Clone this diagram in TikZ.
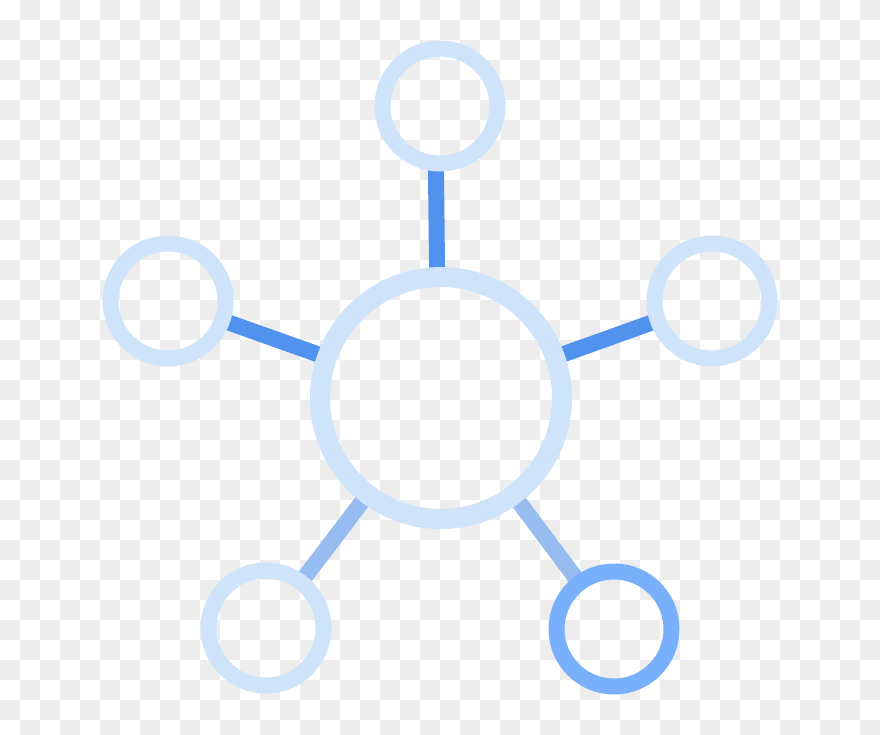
\documentclass[tikz,border=0pt]{standalone}
\usetikzlibrary{backgrounds}
\definecolor{ringlight}{RGB}{207,228,250}
\definecolor{ringdark}{RGB}{120,176,252}
\definecolor{linkdark}{RGB}{82,146,239}
\definecolor{linklight}{RGB}{150,188,240}
\definecolor{checker}{RGB}{237,237,237}
\tikzset{
  ring/.style={circle, draw=ringlight, line width=16pt, inner sep=0pt, minimum size=115pt},
  hubring/.style={circle, draw=ringlight, line width=20pt, inner sep=0pt, minimum size=242pt},
  link/.style={line width=16pt, line cap=butt, shorten <=-8pt, shorten >=-8pt},
}
\begin{document}
\begin{tikzpicture}[x=1pt,y=-1pt]
\useasboundingbox (0,0) rectangle (880,735);
% rings
\node[hubring] (hub) at (441,398) {};
\node[ring] (top) at (440,106) {};
\node[ring] (left) at (168,301) {};
\node[ring] (right) at (712,301) {};
\node[ring] (bl) at (266,628) {};
\node[ring, draw=ringdark] (br) at (614,629) {};
\begin{scope}[on background layer]
  % transparency checkerboard
  \fill[white] (0,0) rectangle (880,735);
  \begin{scope}
    \clip (0,0) rectangle (880,735);
    \foreach \i in {0,...,43}{
      \foreach \j in {0,...,36}{
        \pgfmathtruncatemacro{\parity}{mod(\i+\j,2)}
        \ifnum\parity=1
          \fill[checker] (\i*20,\j*20) rectangle ++(20,20);
        \fi
      }
    }
  \end{scope}
  % connectors
  \draw[link, linkdark] ([xshift=-4pt]top.south) -- ([xshift=-4pt]hub.north);
  \draw[link, linkdark] (left) -- (hub);
  \draw[link, linkdark] (right) -- (hub);
  \draw[link, linklight] (bl) -- (hub);
  \draw[link, linklight] (br) -- (hub);
\end{scope}
\end{tikzpicture}
\end{document}
